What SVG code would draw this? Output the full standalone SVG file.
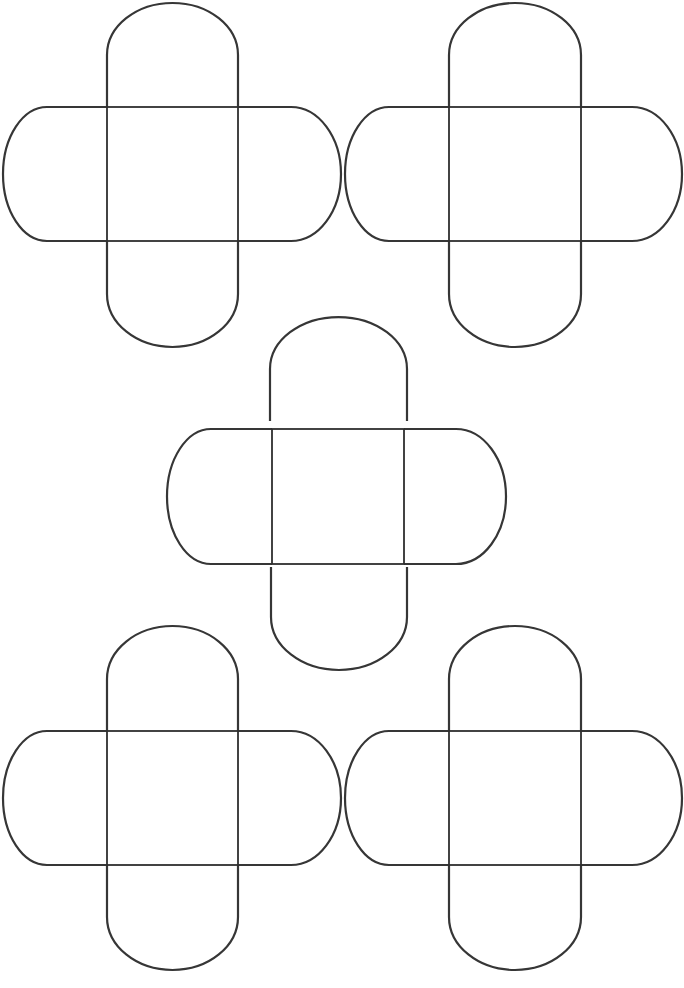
<svg xmlns="http://www.w3.org/2000/svg" width="684" height="988" viewBox="0 0 684 988">
<style>
.flap{fill:none;stroke:#363636;stroke-width:2.2;stroke-linejoin:round}
.sq{fill:none;stroke:#2f2f2f;stroke-width:1.8}
</style>
<rect width="684" height="988" fill="#fff"/>
<g id="net-top-left">
<path class="flap" d="M107,107 V55 A65.5,52 0 0 1 238,55 V107"/>
<path class="flap" d="M107,107 H47 A44,67 0 0 0 47,241 H107"/>
<path class="flap" d="M238,107 H291 A50,67 0 0 1 291,241 H238"/>
<path class="flap" d="M107,241 V294 A65.5,53 0 0 0 238,294 V241"/>
<rect class="sq" x="107" y="107" width="131" height="134"/>
</g>
<g id="net-top-right">
<path class="flap" d="M449,107 V55 A66,52 0 0 1 581,55 V107"/>
<path class="flap" d="M449,107 H389 A44,67 0 0 0 389,241 H449"/>
<path class="flap" d="M581,107 H632 A50,67 0 0 1 632,241 H581"/>
<path class="flap" d="M449,241 V294 A66,53 0 0 0 581,294 V241"/>
<rect class="sq" x="449" y="107" width="132" height="134"/>
</g>
<g id="net-center">
<path class="flap" d="M270,421 V369 A68.5,52 0 0 1 407,369 V421"/>
<path class="flap" d="M272,429 H211 A44,67.5 0 0 0 211,564 H272"/>
<path class="flap" d="M404,429 H456 A50,67.5 0 0 1 456,564 H404"/>
<path class="flap" d="M271,567 V617 A68,53 0 0 0 407,617 V567"/>
<rect class="sq" x="272" y="429" width="132" height="135"/>
</g>
<g id="net-bottom-left">
<path class="flap" d="M107,731 V679 A65.5,53 0 0 1 238,679 V731"/>
<path class="flap" d="M107,731 H47 A44,67 0 0 0 47,865 H107"/>
<path class="flap" d="M238,731 H291 A50,67 0 0 1 291,865 H238"/>
<path class="flap" d="M107,865 V917 A65.5,53 0 0 0 238,917 V865"/>
<rect class="sq" x="107" y="731" width="131" height="134"/>
</g>
<g id="net-bottom-right">
<path class="flap" d="M449,731 V679 A66,53 0 0 1 581,679 V731"/>
<path class="flap" d="M449,731 H389 A44,67 0 0 0 389,865 H449"/>
<path class="flap" d="M581,731 H632 A50,67 0 0 1 632,865 H581"/>
<path class="flap" d="M449,865 V917 A66,53 0 0 0 581,917 V865"/>
<rect class="sq" x="449" y="731" width="132" height="134"/>
</g>
</svg>
